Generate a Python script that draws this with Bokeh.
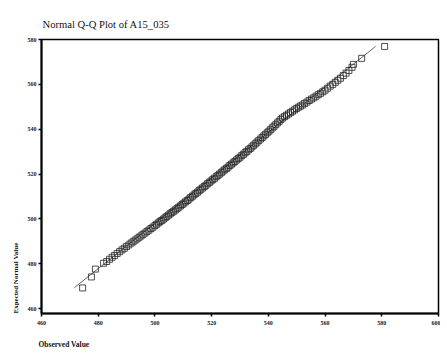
from bokeh.plotting import figure
from bokeh.models import Range1d, FixedTicker, Title
from bokeh.embed import file_html
from bokeh.resources import INLINE

title_text = "Normal Q-Q Plot of A15_035"
x_label = "Observed Value"
y_label = "Expected Normal Value"

x_ticks = [460, 480, 500, 520, 540, 560, 580, 600]
y_ticks = [460, 480, 500, 520, 540, 560, 580]

observed = [474.5, 477.6, 479.0, 481.9, 483.0, 484.0, 484.9, 485.8, 486.7, 487.6,
            488.4, 489.2, 490.0, 490.8, 491.6, 492.3, 493.0, 493.7, 494.4, 495.1,
            495.8, 496.5, 497.2, 497.9, 498.6, 499.3, 500.0, 500.6, 501.2, 501.8,
            502.4, 503.0, 503.6, 504.2, 504.8, 505.4, 506.0, 506.6, 507.2, 507.8,
            508.4, 509.0, 509.6, 510.2, 510.8, 511.4, 512.0, 512.6, 513.2, 513.8,
            514.4, 515.0, 515.6, 516.2, 516.8, 517.4, 518.0, 518.6, 519.2, 519.8,
            520.4, 521.0, 521.6, 522.2, 522.8, 523.4, 524.0, 524.6, 525.2, 525.8,
            526.4, 527.0, 527.6, 528.2, 528.8, 529.4, 530.0, 530.6, 531.2, 531.8,
            532.4, 533.0, 533.6, 534.2, 534.8, 535.4, 536.0, 536.6, 537.2, 537.8,
            538.4, 539.0, 539.6, 540.2, 540.8, 541.4, 542.0, 542.6, 543.2, 543.8,
            544.4, 545.0, 545.7, 546.4, 547.1, 547.8, 548.5, 549.2, 549.9, 550.6,
            551.3, 552.0, 552.8, 553.6, 554.4, 555.2, 556.0, 556.8, 557.6, 558.4,
            559.2, 560.0, 560.9, 561.8, 562.7, 563.6, 564.5, 565.4, 566.4, 567.4,
            568.4, 569.5, 570.0, 572.9, 581.0]
expected = [469.2, 474.1, 477.6, 480.2, 481.0, 482.0, 482.9, 483.7, 484.6, 485.4,
            486.2, 486.9, 487.7, 488.4, 489.2, 489.8, 490.5, 491.1, 491.8, 492.4,
            493.1, 493.7, 494.4, 495.0, 495.7, 496.3, 497.0, 497.6, 498.2, 498.8,
            499.3, 499.9, 500.5, 501.1, 501.7, 502.3, 502.9, 503.4, 504.0, 504.6,
            505.2, 505.8, 506.4, 507.0, 507.6, 508.2, 508.8, 509.5, 510.1, 510.7,
            511.3, 511.9, 512.6, 513.2, 513.8, 514.4, 515.0, 515.7, 516.3, 516.9,
            517.5, 518.1, 518.8, 519.4, 520.0, 520.6, 521.3, 521.9, 522.5, 523.1,
            523.8, 524.4, 525.0, 525.6, 526.3, 526.9, 527.5, 528.2, 528.8, 529.5,
            530.1, 530.8, 531.4, 532.1, 532.8, 533.5, 534.2, 534.9, 535.6, 536.3,
            537.0, 537.7, 538.4, 539.1, 539.8, 540.6, 541.3, 542.0, 542.8, 543.5,
            544.3, 545.0, 545.6, 546.2, 546.8, 547.4, 548.0, 548.6, 549.2, 549.8,
            550.3, 550.8, 551.5, 552.1, 552.8, 553.4, 554.0, 554.7, 555.4, 556.0,
            556.7, 557.4, 558.3, 559.2, 560.0, 560.9, 561.8, 562.7, 563.9, 565.0,
            566.2, 567.6, 568.9, 571.6, 576.9]

ref_line_x = [471.6, 577.8]
ref_line_y = [469.3, 576.9]

serif = "Liberation Serif"

p = figure(width=440, height=364, output_backend="svg", toolbar_location=None,
           x_range=Range1d(460, 600), y_range=Range1d(457.8, 580))
p.min_border_left = 41
p.min_border_right = 2
p.min_border_top = 39
p.min_border_bottom = 51
p.background_fill_color = "white"
p.border_fill_color = "white"
p.grid.visible = False
p.outline_line_color = "black"
p.outline_line_width = 1.5

p.title.text = title_text
p.title.align = "left"
p.title.text_font = serif
p.title.text_font_size = "10.6px"
p.title.text_font_style = "normal"
p.title.text_color = "#111111"
p.title.offset = 1
p.title.padding = dict(left=0, right=0, top=0, bottom=5)

for ax in (p.xaxis[0], p.yaxis[0]):
    ax.axis_line_color = "black"
    ax.axis_line_width = 2
    ax.major_tick_line_color = "black"
    ax.major_tick_line_width = 1.5
    ax.major_tick_out = 3
    ax.major_tick_in = 0
    ax.minor_tick_line_color = None
    ax.major_label_text_font = serif
    ax.major_label_text_font_size = "6px"
    ax.major_label_text_font_style = "bold"
    ax.major_label_text_color = "#222222"
    ax.major_label_standoff = 4
p.yaxis.major_label_standoff = 2
p.xaxis.ticker = FixedTicker(ticks=x_ticks)
p.yaxis.ticker = FixedTicker(ticks=y_ticks)

p.add_layout(Title(text=x_label, align="left", text_font=serif, text_font_size="7.5px",
                   text_font_style="bold", text_color="#111111", offset=-3,
                   padding=dict(left=0, right=0, top=5, bottom=0)), "below")
p.add_layout(Title(text=y_label, align="left", text_font=serif, text_font_size="7px",
                   text_font_style="bold", text_color="#111111", offset=0), "left")

p.line(ref_line_x, ref_line_y, line_color="#555555", line_width=0.9)
p.scatter(observed, expected, marker="square", size=6, fill_color=None,
          line_color="#222222", line_width=0.8)

open("out.html", "w").write(file_html(p, INLINE))
